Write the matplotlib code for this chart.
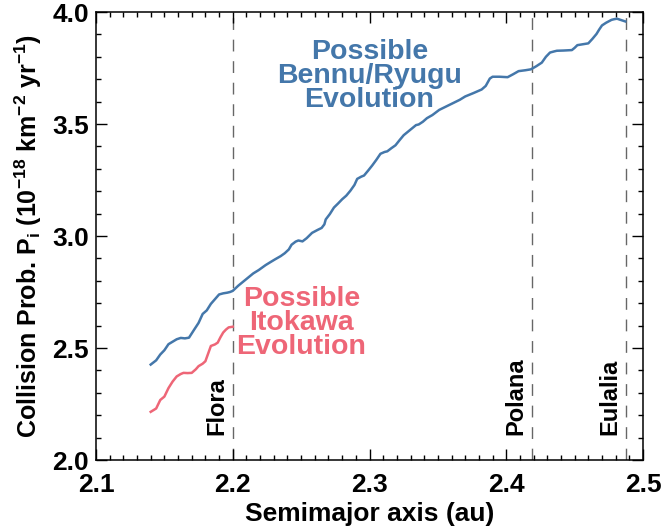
import matplotlib
matplotlib.use('Agg')
import matplotlib.pyplot as plt

BLUE, RED, DASH = '#4477AA', '#EE6677', '#666666'
plt.rcParams.update({'font.family': 'Liberation Sans', 'font.weight': 'bold',
                     'mathtext.fontset': 'custom',
                     'mathtext.rm': 'Liberation Sans:bold',
                     'mathtext.it': 'Liberation Sans:bold',
                     'mathtext.bf': 'Liberation Sans:bold'})

# cumulative collision probability along the drift path (semimajor axis, au)
bennu_a = [2.140, 2.144, 2.147, 2.150, 2.153, 2.156, 2.159, 2.162, 2.165, 2.168,
           2.170, 2.172, 2.175, 2.178, 2.181, 2.184, 2.187, 2.190, 2.193, 2.196,
           2.198, 2.200, 2.204, 2.209, 2.212, 2.215, 2.219, 2.224, 2.228, 2.231,
           2.235, 2.238, 2.241, 2.243, 2.246, 2.248, 2.251, 2.254, 2.258, 2.262,
           2.265, 2.267, 2.268, 2.271, 2.274, 2.277, 2.280, 2.283, 2.286, 2.289,
           2.291, 2.294, 2.296, 2.299, 2.302, 2.305, 2.308, 2.311, 2.313, 2.316,
           2.319, 2.322, 2.325, 2.328, 2.331, 2.334, 2.336, 2.339, 2.342, 2.346,
           2.351, 2.356, 2.361, 2.366, 2.370, 2.376, 2.382, 2.385, 2.388, 2.390,
           2.395, 2.401, 2.405, 2.409, 2.414, 2.418, 2.422, 2.426, 2.429, 2.432,
           2.435, 2.437, 2.442, 2.448, 2.450, 2.452, 2.456, 2.460, 2.463, 2.466,
           2.468, 2.470, 2.473, 2.477, 2.479, 2.481, 2.484, 2.487]
bennu_p = [2.426, 2.445, 2.471, 2.490, 2.517, 2.528, 2.539, 2.545, 2.543, 2.546,
           2.565, 2.584, 2.612, 2.652, 2.668, 2.697, 2.718, 2.739, 2.744, 2.747,
           2.750, 2.755, 2.778, 2.803, 2.818, 2.833, 2.848, 2.870, 2.885, 2.896,
           2.910, 2.923, 2.940, 2.961, 2.975, 2.980, 2.976, 2.990, 3.014, 3.027,
           3.036, 3.052, 3.074, 3.098, 3.127, 3.145, 3.164, 3.180, 3.202, 3.228,
           3.255, 3.265, 3.270, 3.292, 3.315, 3.340, 3.367, 3.375, 3.378, 3.392,
           3.405, 3.428, 3.450, 3.465, 3.480, 3.495, 3.498, 3.510, 3.526, 3.540,
           3.563, 3.578, 3.593, 3.608, 3.623, 3.638, 3.654, 3.670, 3.703, 3.711,
           3.711, 3.709, 3.722, 3.736, 3.740, 3.744, 3.758, 3.774, 3.800, 3.819,
           3.824, 3.827, 3.828, 3.830, 3.840, 3.852, 3.856, 3.860, 3.880, 3.902,
           3.922, 3.940, 3.952, 3.965, 3.968, 3.970, 3.964, 3.958]

itokawa_a = [2.140, 2.144, 2.147, 2.150, 2.153, 2.156, 2.159, 2.162, 2.164, 2.167,
             2.170, 2.173, 2.175, 2.178, 2.180, 2.182, 2.184, 2.187, 2.189, 2.191,
             2.193, 2.195, 2.197, 2.200]
itokawa_p = [2.215, 2.230, 2.268, 2.283, 2.321, 2.350, 2.373, 2.384, 2.389, 2.388,
             2.389, 2.405, 2.419, 2.430, 2.441, 2.475, 2.509, 2.516, 2.524, 2.548,
             2.569, 2.582, 2.592, 2.595]

families = ['Flora', 'Polana', 'Eulalia']
family_a = [2.200, 2.419, 2.4876]

fig = plt.figure(figsize=(6.63, 5.29), dpi=100)
ax = fig.add_axes([96 / 663, 1 - 460 / 529, (643 - 96) / 663, (460 - 12) / 529])

for name, a in zip(families, family_a):
    ax.axvline(a, color=DASH, lw=1.0, ls=(0, (8.5, 7)), zorder=1)
    ax.text(a - 0.0035, 2.11, name, rotation=90, ha='right', va='bottom',
            fontsize=17, fontweight='bold', color='black')

ax.plot(bennu_a, bennu_p, color=BLUE, lw=1.8, zorder=3)
ax.plot(itokawa_a, itokawa_p, color=RED, lw=1.8, zorder=3)

ax.text(2.300, 3.714, 'Possible\nBennu/Ryugu\nEvolution', ha='center', va='center',
        color=BLUE, fontsize=20.5, fontweight='bold', linespacing=0.9)
ax.text(2.2503, 2.611, 'Possible\nItokawa\nEvolution', ha='center', va='center',
        color=RED, fontsize=20.5, fontweight='bold', linespacing=0.9)

ax.set_xlim(2.1, 2.5)
ax.set_ylim(2.0, 4.0)
ax.set_xticks([2.1, 2.2, 2.3, 2.4, 2.5])
ax.set_yticks([2.0, 2.5, 3.0, 3.5, 4.0])
ax.set_xticks([2.1 + 0.01 * i for i in range(41)], minor=True)
ax.set_yticks([2.0 + 0.1 * i for i in range(21)], minor=True)
ax.set_xticklabels(['2.1', '2.2', '2.3', '2.4', '2.5'])
ax.set_yticklabels(['2.0', '2.5', '3.0', '3.5', '4.0'])
ax.tick_params(which='both', direction='in', top=True, right=True, width=1.0)
ax.tick_params(which='major', length=8, labelsize=19)
ax.tick_params(axis='x', which='major', pad=9)
ax.tick_params(axis='y', which='major', pad=5)
ax.tick_params(which='minor', length=3.6)
for s in ax.spines.values():
    s.set_linewidth(1.1)

ax.set_xlabel('Semimajor axis (au)', fontsize=19, fontweight='bold', labelpad=4)
ax.set_ylabel(r'Collision Prob. P$_\mathregular{i}$ (10$^\mathregular{-18}$ km$^\mathregular{-2}$ yr$^\mathregular{-1}$)',
              fontsize=18, fontweight='bold', labelpad=6)

fig.savefig('out.png', facecolor='white')
